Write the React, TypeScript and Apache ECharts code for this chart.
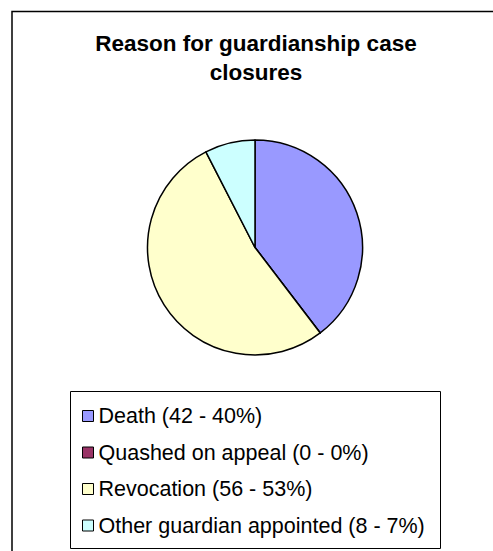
import React, { useEffect, useRef } from "react";
import * as echarts from "echarts";

// Closure reasons, counts and the stated share of each
const categories = ["Death", "Quashed on appeal", "Revocation", "Other guardian appointed"];
const caseCounts = [42, 0, 56, 8];
const percentShares = [40, 0, 53, 7];
const sliceColors = ["#9999FF", "#993366", "#FFFFCC", "#CCFFFF"];

const titleText = "Reason for guardianship case\nclosures";
const FONT = '"Liberation Sans", Arial, sans-serif';

export default function App() {
  const ref = useRef<HTMLDivElement>(null);

  useEffect(() => {
    if (!ref.current) return;
    const chart = echarts.init(ref.current, undefined, { renderer: "svg" });

    const legendNames: Record<string, string> = {};
    categories.forEach((c, i) => {
      legendNames[c] = `${c} (${caseCounts[i]} - ${percentShares[i]}%)`;
    });

    chart.setOption({
      animation: false,
      backgroundColor: "#FFFFFF",
      legend: {
        orient: "vertical",
        left: 82,
        top: 405,
        padding: 0,
        itemWidth: 11,
        itemHeight: 11,
        itemGap: 14.5,
        icon: "rect",
        selectedMode: false,
        itemStyle: { borderColor: "#000000", borderWidth: 1 },
        textStyle: { fontFamily: FONT, fontSize: 21.5, color: "#000000", lineHeight: 21.5 },
        formatter: (name: string) => legendNames[name],
        data: categories,
      },
      graphic: [
        {
          type: "rect",
          silent: true,
          shape: { x: 12, y: 11.5, width: 1000, height: 1000 },
          style: { fill: "none", stroke: "#000000", lineWidth: 1.5 },
          z: 0,
        },
        {
          type: "rect",
          silent: true,
          shape: { x: 70.5, y: 391.5, width: 370, height: 157 },
          style: { fill: "none", stroke: "#000000", lineWidth: 1 },
          z: 0,
        },
        {
          type: "text",
          silent: true,
          x: 256,
          y: 57.5,
          style: {
            text: titleText,
            align: "center",
            verticalAlign: "middle",
            font: `bold 22.5px ${FONT}`,
            lineHeight: 29,
            fill: "#000000",
          },
        },
      ],
      series: [
        {
          type: "pie",
          center: [255, 247.5],
          radius: 107.5,
          startAngle: 90,
          clockwise: true,
          label: { show: false },
          labelLine: { show: false },
          emphasis: { disabled: true },
          itemStyle: { borderColor: "#000000", borderWidth: 1.5 },
          data: categories.map((c, i) => ({
            name: c,
            value: caseCounts[i],
            itemStyle: { color: sliceColors[i] },
          })),
        },
      ],
    });

    return () => chart.dispose();
  }, []);

  return (
    <div
      ref={ref}
      style={{ position: "fixed", left: 0, top: 0, width: 493, height: 551, background: "#fff" }}
    />
  );
}
